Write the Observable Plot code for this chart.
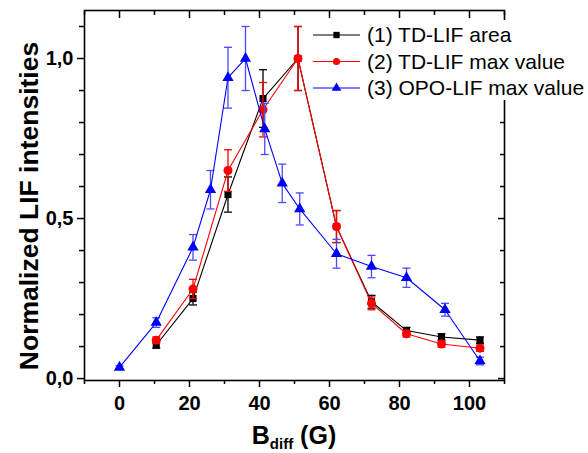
<!DOCTYPE html>
<html><head><meta charset="utf-8">
<script src="https://cdn.jsdelivr.net/npm/d3@7"></script>
<script src="https://cdn.jsdelivr.net/npm/@observablehq/plot@0.6"></script>
<style>
body{margin:0;background:#fff;}
#wrap{width:588px;height:453px;}
</style></head><body><div id="wrap"></div>
<script>
// ---- data ----
const seriesNames = ["(1) TD-LIF area", "(2) TD-LIF max value", "(3) OPO-LIF max value"];
const seriesColors = ["#000000", "#ff0000", "#0000ff"];
const errColors = ["#000000", "#ff0000", "#4a4aff"];

const tdB = [10.5, 21, 31, 41, 51, 62, 72, 82, 92, 103];
const areaVals = [0.105, 0.25, 0.575, 0.875, 1.0, 0.475, 0.24, 0.15, 0.13, 0.12];
const areaErr  = [0.01, 0.02, 0.055, 0.09, 0.1, 0.05, 0.02, 0.01, 0.01, 0.01];
const maxVals  = [0.12, 0.28, 0.65, 0.84, 1.0, 0.475, 0.235, 0.14, 0.108, 0.095];
const maxErr   = [0.01, 0.03, 0.065, 0.085, 0.1, 0.05, 0.02, 0.01, 0.01, 0.01];

const opoB    = [0, 10.5, 21, 26, 31, 36, 41.5, 46.5, 51.5, 62, 72, 82, 93, 103];
const opoVals = [0.035, 0.175, 0.41, 0.59, 0.94, 1.0, 0.78, 0.61, 0.53, 0.39, 0.35, 0.315, 0.215, 0.055];
const opoErr  = [0.005, 0.015, 0.04, 0.06, 0.095, 0.1, 0.08, 0.06, 0.05, 0.045, 0.035, 0.03, 0.02, 0.012];

const xMajor = [0, 20, 40, 60, 80, 100];
const xMinor = [-10, 10, 30, 50, 70, 90, 110];
const yMajor = [0, 0.5, 1.0];
const yMinor = [0.1, 0.2, 0.3, 0.4, 0.6, 0.7, 0.8, 0.9, 1.1];
const xTitle = ["B", "diff", " (G)"];
const yTitle = "Normalized LIF intensities";

// ---- build tables ----
const mk = (xs, ys, es) => xs.map((x, i) => ({x, y: ys[i], e: es[i]}));
const series = [mk(tdB, areaVals, areaErr), mk(tdB, maxVals, maxErr), mk(opoB, opoVals, opoErr)];
const symbols = ["square", "circle", "triangle"];
const radii = [4, 4.5, 4.2];

const cap = {draw(ctx, size) { const w = Math.sqrt(size / Math.PI); ctx.moveTo(-w, 0); ctx.lineTo(w, 0); }};

const font = '"Liberation Sans", Arial, Helvetica, sans-serif';
const marks = [];
series.forEach((data, i) => {
  marks.push(
    Plot.ruleX(data, {x: "x", y1: d => d.y - d.e, y2: d => d.y + d.e, stroke: errColors[i], strokeWidth: 1.3}),
    Plot.dot(data, {x: "x", y: d => d.y + d.e, symbol: cap, r: 4, stroke: errColors[i], fill: "none", strokeWidth: 1.3}),
    Plot.dot(data, {x: "x", y: d => d.y - d.e, symbol: cap, r: 4, stroke: errColors[i], fill: "none", strokeWidth: 1.3}),
    Plot.line(data, {x: "x", y: "y", stroke: seriesColors[i], strokeWidth: 1.1}),
    Plot.dot(data, {x: "x", y: "y", symbol: symbols[i], r: radii[i], fill: seriesColors[i], stroke: "none"})
  );
});

const fmt = d => d3.format(".1f")(d).replace(".", ",");

const plot = Plot.plot({
  width: 588, height: 453,
  marginLeft: 84, marginRight: 84, marginTop: 10, marginBottom: 73,
  style: {fontFamily: font, fontSize: "20px", fontWeight: "bold", color: "#000", background: "#fff", overflow: "visible"},
  x: {domain: [-10, 110]},
  y: {domain: [-0.006, 1.15]},
  marks: [
    ...marks,
    Plot.axisX(xMajor, {anchor: "bottom", tickSize: 7, tickPadding: 8, tickFormat: d => d, label: null, strokeWidth: 1.5}),
    Plot.axisX(xMinor, {anchor: "bottom", tickSize: 4, tickFormat: () => "", label: null, strokeWidth: 1.5}),
    Plot.axisX(xMajor, {anchor: "top", tickSize: -7, tickFormat: () => "", label: null, strokeWidth: 1.5}),
    Plot.axisX(xMinor, {anchor: "top", tickSize: -4, tickFormat: () => "", label: null, strokeWidth: 1.5}),
    Plot.axisY(yMajor, {anchor: "left", tickSize: 7, tickPadding: 4, tickFormat: fmt, label: null, strokeWidth: 1.5}),
    Plot.axisY(yMinor, {anchor: "left", tickSize: 5, tickFormat: () => "", label: null, strokeWidth: 1.5}),
    Plot.axisY(yMajor, {anchor: "right", tickSize: -7, tickFormat: () => "", label: null, strokeWidth: 1.5}),
    Plot.axisY(yMinor, {anchor: "right", tickSize: -5, tickFormat: () => "", label: null, strokeWidth: 1.5}),
    Plot.frame({stroke: "#000", strokeWidth: 1.6})
  ]
});

document.getElementById("wrap").appendChild(plot);

// ---- titles & legend ----
const svg = d3.select(plot);
const xr = plot.scale("x").range, yr = plot.scale("y").range;
const xc = (xr[0] + xr[1]) / 2;
const t = svg.append("text").attr("x", xc).attr("y", 444).attr("text-anchor", "middle")
  .attr("font-family", font).attr("font-weight", "bold").attr("font-size", 25).attr("fill", "#000");
t.append("tspan").text(xTitle[0]);
t.append("tspan").attr("font-size", 15).attr("dy", 5).text(xTitle[1]);
t.append("tspan").attr("dy", -5).text(xTitle[2]);

svg.append("text").attr("transform", `translate(29,${(yr[0] + yr[1]) / 2 + 11}) rotate(-90)`)
  .attr("text-anchor", "middle").attr("dy", "0.35em")
  .attr("font-family", font).attr("font-weight", "bold").attr("font-size", 26.5).attr("fill", "#000")
  .text(yTitle);

const lg = svg.append("g").attr("text-anchor", "start");
lg.append("rect").attr("x", 364).attr("y", 20).attr("width", 224).attr("height", 80).attr("fill", "#fff");
seriesNames.forEach((name, i) => {
  const yy = 35 + i * 26.5;
  lg.append("line").attr("x1", 313).attr("x2", 360).attr("y1", yy).attr("y2", yy)
    .attr("stroke", seriesColors[i]).attr("stroke-width", 1.1);
  lg.append("path").attr("transform", `translate(336.5,${yy})`)
    .attr("d", d3.symbol(i === 0 ? d3.symbolSquare : i === 1 ? d3.symbolCircle : d3.symbolTriangle, 40)())
    .attr("fill", seriesColors[i]);
  lg.append("text").attr("x", 367).attr("y", yy).attr("dy", "0.35em").attr("text-anchor", "start")
    .attr("font-family", font).attr("font-weight", "normal").attr("font-size", 21).attr("fill", "#000")
    .text(name);
});
</script>
</body></html>
